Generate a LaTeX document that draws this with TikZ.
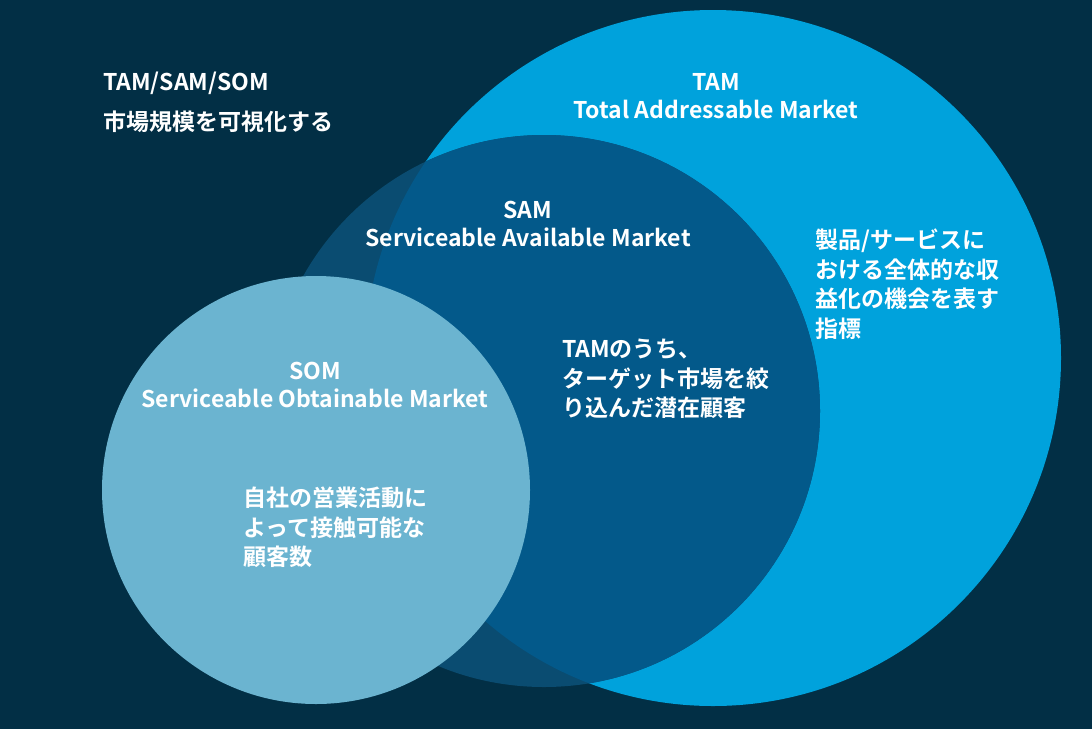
\documentclass[tikz,border=0pt]{standalone}
\usepackage{fontspec}
\setmainfont{Noto Sans CJK JP}[BoldFont={* Bold}]
\definecolor{bg}{HTML}{022F45}
\definecolor{tamc}{HTML}{00A2DC}
\definecolor{samc}{HTML}{0A4C71}
\definecolor{samin}{HTML}{03598A}
\definecolor{somc}{HTML}{6BB4D0}
\tikzset{lbl/.style={text=white,font=\bfseries\fontsize{23}{29.5}\selectfont,align=left,anchor=north west,inner sep=0pt},
ttl/.style={text=white,font=\bfseries\fontsize{23}{28.5}\selectfont,align=center,inner sep=0pt}}
\begin{document}
\begin{tikzpicture}[x=1pt,y=-1pt]
\fill[bg] (0,0) rectangle (1092,729);
\useasboundingbox (0,0) rectangle (1092,729);
\fill[tamc] (713,358) circle (348);
\fill[samc] (544,411) circle (276);
\begin{scope}
\clip (713,358) circle (348);
\fill[samin] (544,411) circle (276);
\end{scope}
\fill[somc] (316,490) circle (214);
\node[lbl,anchor=west] (t1) at (103,83) {TAM/SAM/SOM};
\node[lbl,anchor=west] (t2) at (103,122) {市場規模を可視化する};
\node[ttl] (tam) at (716,96) {TAM\\Total Addressable Market};
\node[ttl] (sam) at (528,224) {SAM\\Serviceable Available Market};
\node[ttl] (som) at (315,385) {SOM\\Serviceable Obtainable Market};
\node[lbl] (d1) at (815,229) {製品/サービスに\\おける全体的な収\\益化の機会を表す\\指標};
\node[lbl] (d2) at (562,339) {TAMのうち、\\ターゲット市場を絞\\り込んだ潜在顧客};
\node[lbl] (d3) at (243,487) {自社の営業活動に\\よって接触可能な\\顧客数};
\end{tikzpicture}
\end{document}
